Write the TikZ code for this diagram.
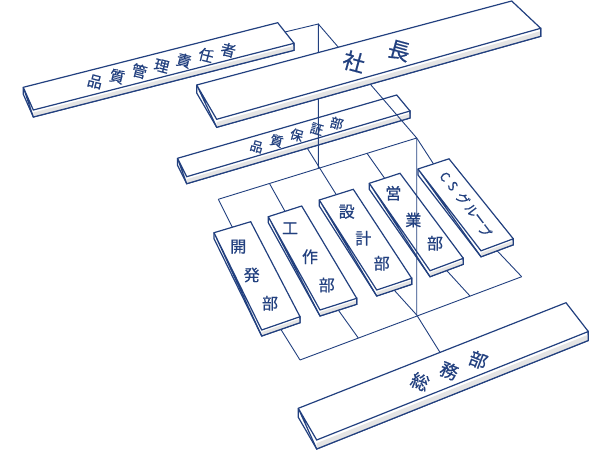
\documentclass[tikz,border=0pt]{standalone}
\usepackage{fontspec}
\newfontfamily\jp{Noto Sans CJK JP}[FakeBold=0.6]
\usetikzlibrary{calc}
\definecolor{navy}{HTML}{22407F}
\definecolor{slabgray}{HTML}{E4E4E4}

\tikzset{
	slabline/.style = {draw = navy, line width = 1.2pt},
	link/.style = {draw = navy, line width = 0.9pt},
	jp/.style = {text = navy, inner sep = 0pt, font = {\jp\fontsize{#1}{#1}\selectfont}}
}

% a flat block: name, corners a b c d of its top face, thickness
\newcommand{\slab}[6]{
	\path #2 coordinate (#1-a) #3 coordinate (#1-b) #4 coordinate (#1-c) #5 coordinate (#1-d);
	\path (#1-a) ++(0, #6) coordinate (#1-a2) (#1-c) ++(0, #6) coordinate (#1-c2) (#1-d) ++(0, #6) coordinate (#1-d2);
	\filldraw[slabline, fill = white] (#1-a) -- (#1-b) -- (#1-c) -- (#1-c2) -- (#1-d2) -- (#1-a2) -- cycle;
	\fill[slabgray] ($(#1-d)!0.35!(#1-d2)$) -- ($(#1-c)!0.35!(#1-c2)$) -- (#1-c2) -- (#1-d2) -- cycle;
	\draw[slabline] (#1-a) -- (#1-d) -- (#1-c) -- (#1-c2) -- (#1-d2) -- cycle;
	\coordinate (#1-top) at ($(#1-a)!0.5!(#1-b)$);
	\coordinate (#1-bot) at ($(#1-d2)!0.5!(#1-c2)$);
}

\begin{document}
\begin{tikzpicture}[x = 1pt, y = -1pt]
	\useasboundingbox (0, 0) rectangle (590, 453);

	% quality blocks and departments
	\slab{qm}{(23.3, 87.3)}{(277.7, 22.7)}{(294, 43.3)}{(33.3, 110)}{7}
	\foreach \ch [count = \i from 0] in {品,質,管,理,責,任,者}
		\node[jp = 15, rotate = -14.5] (qm-t\i) at ($(95, 81.7)!\i/6!(228.3, 50)$) {\ch};
	\slab{qa}{(177.5, 158.3)}{(396.7, 95)}{(410, 111)}{(186.7, 176.7)}{7}
	\foreach \ch [count = \i from 0] in {品,質,保,証,部}
		\node[jp = 13, rotate = -16] (qa-t\i) at ($(256.7, 146.7)!\i/4!(336.7, 123.3)$) {\ch};

	\slab{kaihatsu}{(214, 232.7)}{(250.7, 221.7)}{(300, 316.7)}{(261.7, 330)}{6}
	\slab{kousaku}{(268.3, 216.7)}{(301.7, 206)}{(356.7, 298.3)}{(320, 310)}{6}
	\slab{sekkei}{(319.3, 200)}{(353.3, 189.3)}{(411.7, 278.3)}{(376.7, 290)}{6}
	\slab{eigyo}{(369.3, 183.3)}{(400, 173.3)}{(463.3, 258.3)}{(430, 270.7)}{6}
	\slab{cs}{(418, 169)}{(449, 158.8)}{(513.3, 238.8)}{(481, 250.8)}{6}
	\foreach \ch/\x/\y [count = \i] in {開/238.3/246.7, 発/251.7/275, 部/270/303.3}
		\node[jp = 16] (kaihatsu-t\i) at (\x, \y) {\ch};
	\foreach \ch/\x/\y [count = \i] in {工/290/228.3, 作/310/256.7, 部/326.7/285}
		\node[jp = 16] (kousaku-t\i) at (\x, \y) {\ch};
	\foreach \ch/\x/\y [count = \i] in {設/346.7/211.7, 計/363.3/238.3, 部/381.7/263.3}
		\node[jp = 16] (sekkei-t\i) at (\x, \y) {\ch};
	\foreach \ch/\x/\y [count = \i] in {営/393.3/193.3, 業/413.3/220, 部/435/243.3}
		\node[jp = 16] (eigyo-t\i) at (\x, \y) {\ch};
	\foreach \ch/\x/\y [count = \i] in {C/445/176.7, S/452.8/186, グ/462.8/198.8, ル/471.5/210.3, ー/478.3/220, プ/485/230.5}
		\node[jp = 13, rotate = -53] (cs-t\i) at (\x, \y) {\ch};

	% connectors
	\coordinate (k1) at (318.3, 24);
	\coordinate (k2) at (416.7, 138);
	\coordinate (j1) at (318.3, 168.4);
	\coordinate (j2) at (416.7, 315);
	\coordinate (ubus-1) at (218.3, 199.3);
	\coordinate (ubus-2) at (269.5, 183.5);
	\coordinate (ubus-4) at (367, 153.3);
	\coordinate (lbus-1) at (300, 360);
	\coordinate (lbus-2) at (358.3, 338);
	\coordinate (lbus-4) at (470, 296);
	\coordinate (lbus-5) at (521.7, 276.7);
	\coordinate (soumu-tap) at (440, 352.4);
	\draw[link] ($(qm-b)!0.45!(qm-c)$) -- (k1) -- (j1);
	\draw[link] (k1) -- (k2) -- (j2);
	\draw[link] (ubus-1) -- (k2);
	\draw[link] (ubus-1) -- (kaihatsu-top);
	\draw[link] (ubus-2) -- (kousaku-top);
	\draw[link] ($(qa-d2)!0.54!(qa-c2)$) -- (sekkei-top);
	\draw[link] (ubus-4) -- (eigyo-top);
	\draw[link] (k2) -- (cs-top);
	\draw[link] (lbus-1) -- (lbus-5);
	\draw[link] (kaihatsu-bot) -- (lbus-1);
	\draw[link] (kousaku-bot) -- (lbus-2);
	\draw[link] (sekkei-bot) -- (j2) -- (soumu-tap);
	\draw[link] (eigyo-bot) -- (lbus-4);
	\draw[link] (cs-bot) -- (lbus-5);

	% president and general affairs
	\slab{shacho}{(196.7, 85)}{(511.7, 1)}{(540.7, 28.3)}{(216.7, 119.3)}{8}
	\node[jp = 22, rotate = -15.3] (shacho-t1) at (354, 61.7) {社};
	\node[jp = 22, rotate = -15.3] (shacho-t2) at (399, 50.7) {長};
	\slab{soumu}{(298.3, 408.3)}{(566, 302.7)}{(588.3, 331.5)}{(316.7, 440)}{9}
	\foreach \ch [count = \i from 0] in {総,務,部}
		\node[jp = 18, rotate = -21.5] (soumu-t\i) at ($(420, 381.7)!\i/2!(478.3, 360)$) {\ch};
\end{tikzpicture}
\end{document}
